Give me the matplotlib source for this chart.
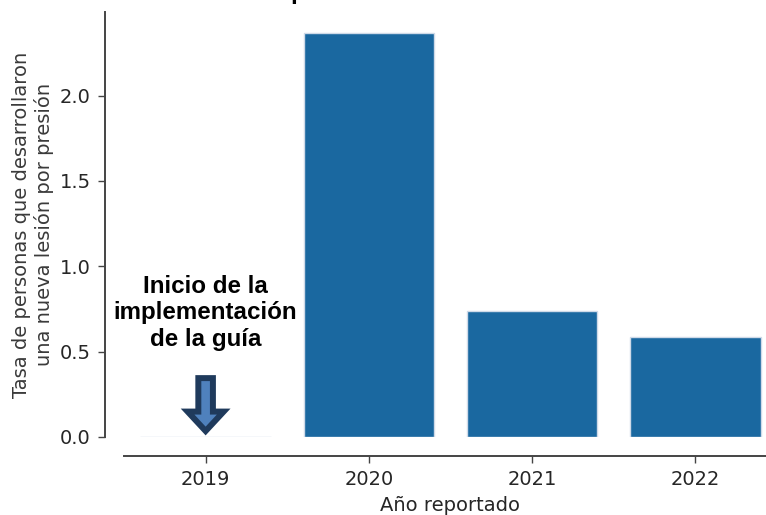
import matplotlib
matplotlib.use("Agg")
import matplotlib.pyplot as plt

# Data
years = ["2019", "2020", "2021", "2022"]
rates = [0.0, 2.365, 0.74, 0.585]
y_ticks = [0.0, 0.5, 1.0, 1.5, 2.0]
annotation_text = "Inicio de la\nimplementación\nde la guía"
title_text = "Tasa de personas con nueva lesión"
xlabel_text = "Año reportado"
ylabel_text = "Tasa de personas que desarrollaron\nuna nueva lesión por presión"

plt.rcParams['font.family'] = ['DejaVu Sans']

fig = plt.figure(figsize=(7.66, 5.15), dpi=100)
ax = fig.add_axes([124/766, (515-437)/515, 653/766, 425/515])

x = list(range(len(years)))
ax.bar(x, rates, width=0.8, color="#1a68a0", edgecolor="#cfdae8", linewidth=1.0)

ax.set_xlim(-0.5, len(years) - 0.5)
ax.set_ylim(0, 2.49)
ax.set_xticks(x)
ax.set_xticklabels(years)
ax.set_yticks(y_ticks)
ax.set_yticklabels([f"{v:.1f}" for v in y_ticks])

for s in ["top", "right"]:
    ax.spines[s].set_visible(False)
for s in ["left", "bottom"]:
    ax.spines[s].set_position(("outward", 14))
    ax.spines[s].set_linewidth(1.4)
    ax.spines[s].set_color("#444444")

ax.tick_params(axis="both", labelsize=14, length=5, width=1.0, color="#444444",
               labelcolor="#262626", pad=5)

ax.set_xlabel(xlabel_text, fontsize=14, color="#262626", labelpad=5)
ax.set_ylabel(ylabel_text, fontsize=14, color="#3a3a3a", labelpad=4)

# Annotation text and arrow at 2019
ax.text(0, 0.727, annotation_text, ha="center", va="center", fontsize=17.4,
        fontweight="bold", family=["Liberation Sans", "DejaVu Sans"], color="black",
        linespacing=1.2)
ax.annotate("", xy=(0, 0.035), xytext=(0, 0.345),
            arrowprops=dict(arrowstyle="simple,head_width=26,head_length=14,tail_width=10.5",
                            mutation_scale=1, fc="#4f81bd", ec="#1f3a5c", lw=4.3,
                            shrinkA=0, shrinkB=0, joinstyle="miter"))

fig.text(0.52, 1.001, title_text, ha="center", va="baseline", fontsize=17.4,
         fontweight="bold", family=["Liberation Sans", "DejaVu Sans"])

fig.savefig("out.png", dpi=100)
